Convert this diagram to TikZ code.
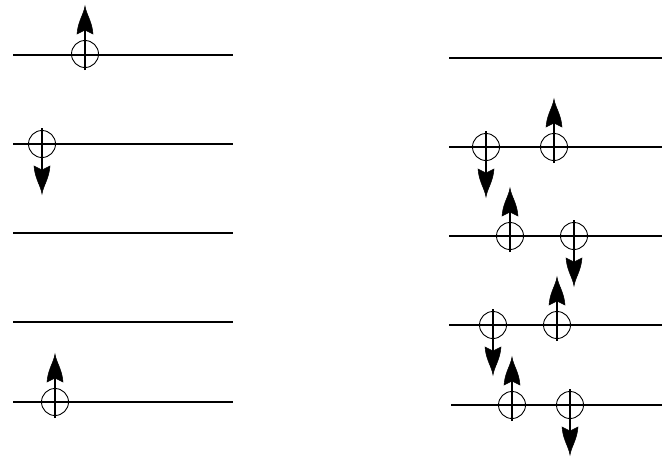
\documentclass[tikz,border=0pt]{standalone}
\usetikzlibrary{calc}
\tikzset{
  level/.style={line width=1.9pt, black},
  spincirc/.style={circle, draw, line width=0.9pt, minimum size=27pt, inner sep=0pt},
  spinshaft/.style={line width=1.1pt},
  spinhead/.style={fill=black, draw=black, line width=0.5pt, line join=miter},
}
% #1 name, #2 x, #3 y
\newcommand\upspin[3]{%
  \node[spincirc] (#1) at (#2,#3) {};
  \coordinate (#1t) at (#2,#3-48);
  \coordinate (#1n) at (#2,#3-24);
  \coordinate (#1b) at (#2,#3+16);
  \draw[spinshaft] (#1b) -- (#1n);
  \fill[spinhead] (#1t) .. controls ($(#1t)+(1.5,9)$) and ($(#1t)+(7,15)$) .. ($(#1t)+(8,28)$)
     -- (#1n) -- ($(#1t)+(-8,28)$) .. controls ($(#1t)+(-7,15)$) and ($(#1t)+(-1.5,9)$) .. cycle;
}
\newcommand\downspin[3]{%
  \node[spincirc] (#1) at (#2,#3) {};
  \coordinate (#1t) at (#2,#3+50);
  \coordinate (#1n) at (#2,#3+26);
  \coordinate (#1b) at (#2,#3-16);
  \draw[spinshaft] (#1b) -- (#1n);
  \fill[spinhead] (#1t) .. controls ($(#1t)+(1.5,-9)$) and ($(#1t)+(7,-15)$) .. ($(#1t)+(8,-28)$)
     -- (#1n) -- ($(#1t)+(-8,-28)$) .. controls ($(#1t)+(-7,-15)$) and ($(#1t)+(-1.5,-9)$) .. cycle;
}
\begin{document}
\begin{tikzpicture}[x=1pt,y=-1pt]
\useasboundingbox (0,0) rectangle (662,456);
% left levels
\foreach \n/\y in {1/55,2/144,3/233,4/322,5/402}{
  \coordinate (La\n) at (13,\y);
  \coordinate (Lb\n) at (233,\y);
  \draw[level] (La\n) -- (Lb\n);
}
% right levels
\foreach \n/\y/\xs in {1/58/449,2/147/449,3/236/449,4/325/449,5/405/451}{
  \coordinate (Ra\n) at (\xs,\y);
  \coordinate (Rb\n) at (662,\y);
  \draw[level] (Ra\n) -- (Rb\n);
}
% left spins
\upspin{l1}{85}{54}
\downspin{l2}{42}{144}
\upspin{l5}{55}{402}
% right spins
\downspin{r2a}{486}{147}
\upspin{r2b}{554}{147}
\upspin{r3a}{510}{236}
\downspin{r3b}{574}{236}
\downspin{r4a}{493}{325}
\upspin{r4b}{557}{325}
\upspin{r5a}{512}{405}
\downspin{r5b}{570}{405}
\end{tikzpicture}
\end{document}
